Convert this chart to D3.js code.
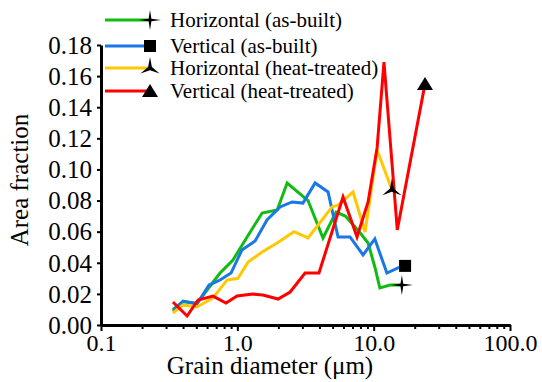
<!DOCTYPE html>
<html lang="en">
<head>
    <meta charset="UTF-8">
    <title>Grain size distribution</title>
    <script src="https://d3js.org/d3.v7.min.js"></script>
    <style>
        body { margin: 0; background: #fff; }
        svg text { font-family: "Liberation Serif", "Times New Roman", Times, "DejaVu Serif", serif !important; }
    </style>
</head>
<body>
<script>
    const width  = 542;
    const height = 382;

    // grain diameter (um) / area fraction
    const hAsBuiltX = [0.337, 0.40, 0.506, 0.60, 0.747, 0.929, 1.18, 1.52, 1.96, 2.32, 3.3, 4.25, 5.3, 6.2, 8.0, 9.1, 10.2, 11.1, 13.2, 16.1];
    const hAsBuiltY = [0.010, 0.015, 0.014, 0.0225, 0.0334, 0.0418, 0.0566, 0.072, 0.0739, 0.0913, 0.080, 0.0559, 0.0726, 0.0700, 0.059, 0.0527, 0.0373, 0.0238, 0.0257, 0.0257];

    const vAsBuiltX = [0.337, 0.40, 0.506, 0.62, 0.747, 0.899, 1.08, 1.35, 1.65, 2.06, 2.52, 3.03, 3.72, 4.63, 5.48, 6.71, 8.36, 10.2, 12.5, 15.1, 17.0];
    const vAsBuiltY = [0.009, 0.0154, 0.0135, 0.0257, 0.0289, 0.0334, 0.0482, 0.054, 0.0675, 0.0759, 0.0791, 0.0784, 0.0913, 0.0855, 0.0566, 0.0566, 0.045, 0.0553, 0.0334, 0.0367, 0.038];

    const hHeatX = [0.337, 0.40, 0.506, 0.663, 0.84, 1.01, 1.20, 1.52, 1.96, 2.6, 3.3, 4.18, 4.95, 5.48, 7.06, 8.65, 10.6, 13.6];
    const hHeatY = [0.0077, 0.0129, 0.0116, 0.0174, 0.0289, 0.030, 0.0405, 0.0469, 0.0527, 0.060, 0.056, 0.0675, 0.0759, 0.0771, 0.0855, 0.0598, 0.1125, 0.087];

    const vHeatX = [0.337, 0.428, 0.515, 0.663, 0.826, 0.995, 1.30, 1.54, 1.99, 2.44, 3.14, 3.97, 5.96, 7.55, 9.10, 10.6, 11.9, 14.9, 23.8];
    const vHeatY = [0.0148, 0.0058, 0.0161, 0.0186, 0.0141, 0.0186, 0.0199, 0.0193, 0.0167, 0.0212, 0.0334, 0.0334, 0.0823, 0.0566, 0.0791, 0.114, 0.169, 0.0611, 0.155];

    const seriesNames = ["Horizontal (as-built)", "Vertical (as-built)", "Horizontal (heat-treated)", "Vertical (heat-treated)"];
    const xTicks = [0.1, 1, 10, 100];
    const yTicks = [0, 0.02, 0.04, 0.06, 0.08, 0.10, 0.12, 0.14, 0.16, 0.18];

    const series = [
        {name: seriesNames[0], x: hAsBuiltX, y: hAsBuiltY, color: "#11bb11", marker: "star4"},
        {name: seriesNames[1], x: vAsBuiltX, y: vAsBuiltY, color: "#1a78e6", marker: "square"},
        {name: seriesNames[2], x: hHeatX,    y: hHeatY,    color: "#ffc800", marker: "tri"},
        {name: seriesNames[3], x: vHeatX,    y: vHeatY,    color: "#ff0000", marker: "triangle"}
    ];

    const serif = "'Liberation Serif', 'Times New Roman', Times, 'DejaVu Serif', serif";
    const plotLeft = 101, plotRight = 510, plotTop = 45, plotBottom = 325;

    const scaleX = d3.scaleLog().domain([0.1, 100]).range([plotLeft, plotRight]);
    const scaleY = d3.scaleLinear().domain([0, 0.18]).range([plotBottom, plotTop]);

    const svg = d3.select("body").append("svg").attr("width", width).attr("height", height)
        .style("font-family", serif);

    // marker shapes
    function starPath(n, outer, inner, rot) {
        const pts = [];
        for (let i = 0; i < n * 2; i++) {
            const r = i % 2 === 0 ? outer : inner;
            const a = rot + i * Math.PI / n;
            pts.push([r * Math.sin(a), -r * Math.cos(a)]);
        }
        return "M" + pts.join("L") + "Z";
    }
    function drawMarker(g, type, cx, cy) {
        if (type === "square") {
            g.append("rect").attr("x", cx - 6).attr("y", cy - 6).attr("width", 12).attr("height", 12).attr("fill", "#000");
        } else if (type === "triangle") {
            g.append("path").attr("d", "M0,-7L8,6L-8,6Z").attr("transform", "translate(" + [cx, cy] + ")").attr("fill", "#000");
        } else if (type === "star4") {
            g.append("path").attr("d", starPath(4, 10, 1.8, 0)).attr("transform", "translate(" + [cx, cy] + ") scale(1.1,1)").attr("fill", "#000");
        } else {
            g.append("path").attr("d", starPath(3, 11, 2.2, 0)).attr("transform", "translate(" + [cx, cy] + ")").attr("fill", "#000");
        }
    }

    const line = d3.line().x(d => scaleX(d[0])).y(d => scaleY(d[1]));

    series.forEach(s => {
        const pts = s.x.map((v, i) => [v, s.y[i]]);
        svg.append("path")
            .attr("d", line(pts))
            .attr("fill", "none")
            .attr("stroke", s.color)
            .attr("stroke-width", 3)
            .attr("stroke-linejoin", "miter");
    });
    series.forEach(s => {
        const last = s.x.length - 1;
        drawMarker(svg, s.marker, scaleX(s.x[last]), scaleY(s.y[last]));
    });

    // axes
    const minorTicks = [];
    [0.1, 1, 10].forEach(d => [2, 3, 4, 5, 6, 7, 8, 9].forEach(k => minorTicks.push(d * k)));

    const xAxis = d3.axisBottom(scaleX).tickValues(xTicks).tickFormat(d3.format(".1f")).tickSize(6).tickSizeOuter(0);
    const xMinor = d3.axisBottom(scaleX).tickValues(minorTicks).tickFormat("").tickSize(4).tickSizeOuter(0);
    const yAxis = d3.axisLeft(scaleY).tickValues(yTicks).tickFormat(d3.format(".2f")).tickSize(4).tickSizeOuter(0);

    const gx = svg.append("g").attr("transform", "translate(0," + plotBottom + ")").call(xAxis);
    const gxm = svg.append("g").attr("transform", "translate(0," + plotBottom + ")").call(xMinor);
    const gy = svg.append("g").attr("transform", "translate(" + plotLeft + ",0)").call(yAxis);

    [gx, gxm, gy].forEach(g => {
        g.attr("font-family", null).attr("font-size", null);
        g.select(".domain").attr("stroke", "#000").attr("stroke-width", 3);
        g.selectAll(".tick line").attr("stroke", "#000").attr("stroke-width", 2);
    });
    gx.selectAll(".tick text").style("font-family", serif).style("font-size", "24px").attr("fill", "#000").attr("dy", "0.9em").attr("y", 4);
    gy.selectAll(".tick text").style("font-family", serif).style("font-size", "25px").attr("fill", "#000").attr("x", -9).attr("dy", "0.33em");

    svg.append("text")
        .attr("x", 270).attr("y", 374)
        .attr("text-anchor", "middle")
        .style("font-family", serif)
        .style("font-size", "25px")
        .text("Grain diameter (μm)");

    svg.append("text")
        .attr("transform", "translate(28,180) rotate(-90)")
        .attr("text-anchor", "middle")
        .style("font-family", serif)
        .style("font-size", "25px")
        .text("Area fraction");

    // legend
    const legendY = [20, 46, 68, 91];
    series.forEach((s, i) => {
        const g = svg.append("g");
        g.append("line")
            .attr("x1", 105).attr("x2", 148)
            .attr("y1", legendY[i]).attr("y2", legendY[i])
            .attr("stroke", s.color).attr("stroke-width", 3);
        drawMarker(g, s.marker, 150, legendY[i]);
        g.append("text")
            .attr("x", 170).attr("y", legendY[i])
            .attr("dy", "0.33em")
            .style("font-family", serif)
            .style("font-size", "21px")
            .text(s.name);
    });
</script>
</body>
</html>
